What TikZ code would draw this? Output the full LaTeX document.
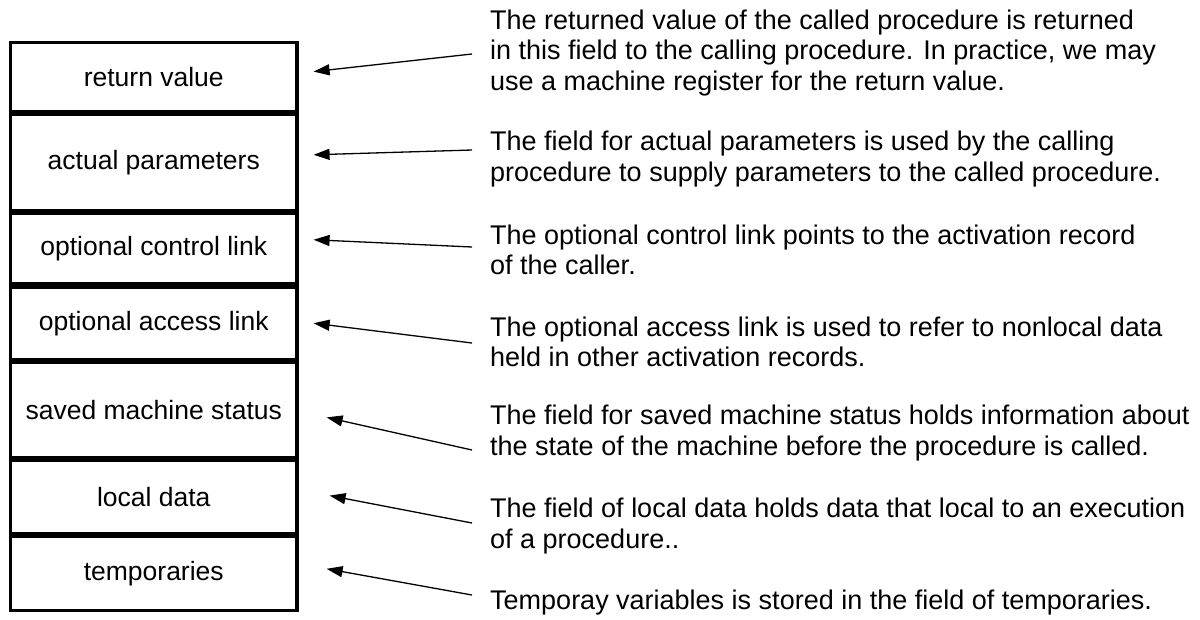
\documentclass[tikz,border=0pt]{standalone}
\usepackage{fontspec}
\setmainfont{Liberation Sans}
\usepackage{tikz}
\usetikzlibrary{arrows.meta, positioning}

\begin{document}
\begin{tikzpicture}[
  x=1pt, y=-1pt,
  font=\fontsize{26.5}{30.5}\selectfont,
  field/.style={rectangle, draw, line width=3.2pt, minimum width=286.5pt,
                inner sep=0pt, align=center},
  note/.style={anchor=west, inner sep=0pt, align=left,
               font=\fontsize{27}{30.5}\selectfont},
  arr/.style={-{Triangle[length=16pt, width=11pt]}, line width=1.3pt},
  ]
  \useasboundingbox (0,0) rectangle (1200,619);

  %% Nodes: the record fields, stacked from the top
  \node[field, minimum height=69pt, anchor=north] (rv) at (153.75,40.5) {return value};
  \node[field, minimum height=96pt,   below=0pt of rv] (ap) {actual parameters};
  \node[field, minimum height=70.5pt, below=0pt of ap] (cl) {optional control link};
  \node[field, minimum height=72pt,   below=0pt of cl] (al) {optional access link};
  \node[field, minimum height=95pt,   below=0pt of al] (sm) {saved machine status};
  \node[field, minimum height=73pt,   below=0pt of sm] (ld) {local data};
  \node[field, minimum height=74pt,   below=0pt of ld] (tp) {temporaries};

  %% Notes on the right
  \node[note] (n1) at (490, 53)  {The returned value of the called procedure is returned\\
    in this field to the calling procedure. In practice, we may\\
    use a machine register for the return value.};
  \node[note] (n2) at (490, 159) {The field for actual parameters is used by the calling\\
    procedure to supply parameters to the called procedure.};
  \node[note] (n3) at (490, 250) {The optional control link points to the activation record\\
    of the caller.};
  \node[note] (n4) at (490, 342) {The optional access link is used to refer to nonlocal data\\
    held in other activation records.};
  \node[note] (n5) at (490, 433) {The field for saved machine status holds information about\\
    the state of the machine before the procedure is called.};
  \node[note] (n6) at (490, 526) {The field of local data holds data that local to an execution\\
    of a procedure..};
  \node[note] (n7) at (490, 603) {Temporay variables is stored in the field of temporaries.};

  %% Arrows from each note back to its field
  \draw[arr] ([shift={(-18,1)}]n1.west)  -- ([shift={(15,-5)}]rv.east);
  \draw[arr] ([shift={(-18,-9)}]n2.west) -- ([shift={(15,-7.5)}]ap.east);
  \draw[arr] ([shift={(-18,-3)}]n3.west) -- ([shift={(15,-9)}]cl.east);
  \draw[arr] ([shift={(-18,1)}]n4.west)  -- ([shift={(15,0)}]al.east);
  \draw[arr] ([shift={(-18,17)}]n5.west) -- ([shift={(28,7.5)}]sm.east);
  \draw[arr] ([shift={(-18,-3)}]n6.west) -- ([shift={(31,-1.5)}]ld.east);
  \draw[arr] ([shift={(-18,-8)}]n7.west) -- ([shift={(28,-5)}]tp.east);
\end{tikzpicture}
\end{document}
